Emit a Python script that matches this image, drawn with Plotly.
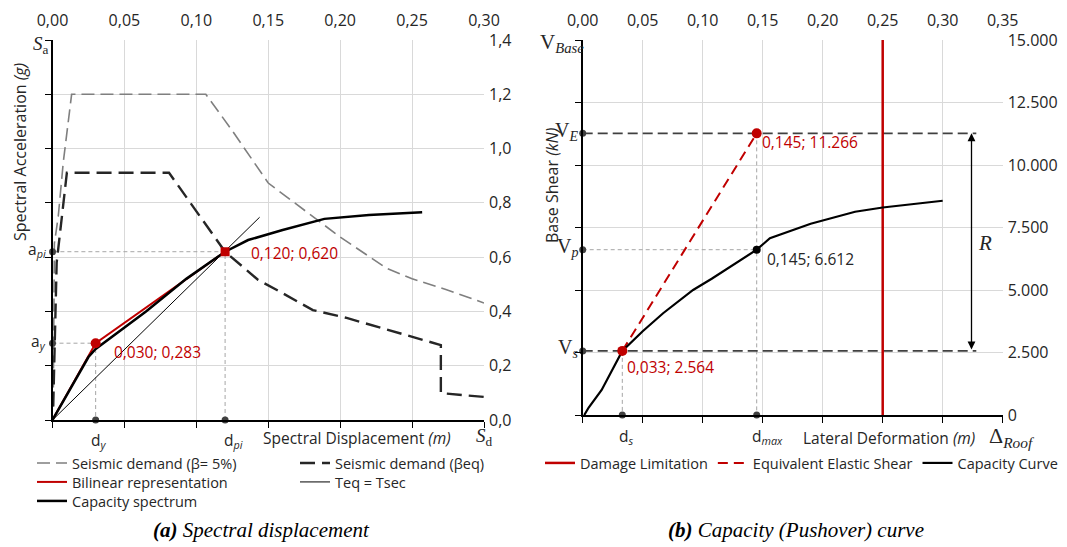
import plotly.graph_objects as go

W, H = 1067, 547

# ---------------- Panel (a) data: spectral displacement ----------------
sd_demand5 = [0.0005, 0.0013, 0.004, 0.0075, 0.0133, 0.1066, 0.1247, 0.15, 0.20, 0.232, 0.25, 0.274, 0.30]
sa_demand5 = [0.05, 0.65, 0.75, 0.95, 1.20, 1.20, 1.068, 0.873, 0.674, 0.56, 0.52, 0.48, 0.431]

sd_demandeq = [0.0005, 0.0013, 0.0029, 0.010, 0.081, 0.120, 0.143, 0.156, 0.181, 0.2045, 0.241, 0.270, 0.270, 0.30]
sa_demandeq = [0.05, 0.21, 0.58, 0.911, 0.911, 0.62, 0.516, 0.479, 0.405, 0.376, 0.32, 0.276, 0.099, 0.085]

sd_bilinear = [0.0, 0.030, 0.120]
sa_bilinear = [0.0, 0.283, 0.620]

sd_tsec = [0.0, 0.144]
sa_tsec = [0.0, 0.747]

sd_capacity = [0.0, 0.025, 0.030, 0.065, 0.093, 0.120, 0.136, 0.160, 0.189, 0.220, 0.257]
sa_capacity = [0.0, 0.232, 0.262, 0.40, 0.52, 0.620, 0.663, 0.700, 0.741, 0.755, 0.765]

d_y, a_y = 0.030, 0.283
d_pi, a_pi = 0.120, 0.620

# ---------------- Panel (b) data: capacity (pushover) curve ----------------
dr_capacity = [0.0013, 0.005, 0.0158, 0.033, 0.050, 0.067, 0.092, 0.1075, 0.145, 0.156, 0.190, 0.227, 0.250, 0.300]
vb_capacity = [0, 300, 1000, 2564, 3350, 4070, 5000, 5450, 6612, 7070, 7650, 8130, 8300, 8570]

dr_elastic = [0.033, 0.145]
vb_elastic = [2564, 11266]

dr_damage = [0.25, 0.25]
vb_damage = [0, 15000]

d_s, V_s = 0.033, 2564
d_max, V_p, V_E = 0.145, 6612, 11266
r_arrow_x = 0.324
h_line_end = 0.328

# ---------------- styles ----------------
SANS = "Open Sans"
SERIF = "Liberation Serif"
RED = "#c00000"
GRID = "#d9d9d9"
GUIDE = "#a6a6a6"
DOT = "#404040"
TXT = "#262626"


def fmt_dec(v, n=3):
    return f"{v:.{n}f}".replace(".", ",")


def fmt_th(v):
    return f"{v:,}".replace(",", ".")


fig = go.Figure()

# ---- panel (a) traces ----
fig.add_trace(go.Scatter(x=[d_pi, d_pi, 0, None, 0, d_y, d_y], y=[0, a_pi, a_pi, None, a_y, a_y, 0],
                         mode="lines", line=dict(color=GUIDE, width=1, dash="4px,3px"),
                         showlegend=False, hoverinfo="skip", xaxis="x", yaxis="y"))
fig.add_trace(go.Scatter(x=sd_demand5, y=sa_demand5, mode="lines", name="Seismic demand (β= 5%)",
                         line=dict(color="#7f7f7f", width=1.6, dash="13px,6px"),
                         legend="legend", legendrank=1, xaxis="x", yaxis="y"))
fig.add_trace(go.Scatter(x=sd_demandeq, y=sa_demandeq, mode="lines", name="Seismic demand (βeq)",
                         line=dict(color="#262626", width=2.4, dash="15px,7px"),
                         legend="legend", legendrank=2, xaxis="x", yaxis="y"))
fig.add_trace(go.Scatter(x=sd_tsec, y=sa_tsec, mode="lines", name="Teq = Tsec",
                         line=dict(color="#000000", width=1),
                         legend="legend3", legendrank=2, xaxis="x", yaxis="y"))
fig.add_trace(go.Scatter(x=sd_bilinear, y=sa_bilinear, mode="lines", name="Bilinear representation",
                         line=dict(color=RED, width=2),
                         legend="legend3", legendrank=1, xaxis="x", yaxis="y"))
fig.add_trace(go.Scatter(x=sd_capacity, y=sa_capacity, mode="lines", name="Capacity spectrum",
                         line=dict(color="#000000", width=2.5),
                         legend="legend4", legendrank=1, xaxis="x", yaxis="y"))
fig.add_trace(go.Scatter(x=[d_y], y=[a_y], mode="markers", marker=dict(color=RED, size=10, symbol="circle"),
                         showlegend=False, hoverinfo="skip", xaxis="x", yaxis="y"))
fig.add_trace(go.Scatter(x=[d_pi], y=[a_pi], mode="markers", marker=dict(color=RED, size=9, symbol="square"),
                         showlegend=False, hoverinfo="skip", xaxis="x", yaxis="y"))
fig.add_trace(go.Scatter(x=[0, 0, d_y, d_pi], y=[a_pi, a_y, 0, 0], mode="markers",
                         marker=dict(color=DOT, size=7), cliponaxis=False,
                         showlegend=False, hoverinfo="skip", xaxis="x", yaxis="y"))
fig.add_trace(go.Scatter(x=[0], y=[0], mode="lines", opacity=0, showlegend=False, hoverinfo="skip",
                         xaxis="x3", yaxis="y3"))

# ---- panel (b) traces ----
fig.add_trace(go.Scatter(x=[0, d_max, None, d_max, d_max, None, d_s, d_s], y=[V_p, V_p, None, V_E, 0, None, V_s, 0],
                         mode="lines", line=dict(color=GUIDE, width=1, dash="4px,3px"),
                         showlegend=False, hoverinfo="skip", xaxis="x2", yaxis="y2"))
fig.add_trace(go.Scatter(x=[0, h_line_end, None, 0, h_line_end], y=[V_E, V_E, None, V_s, V_s],
                         mode="lines", line=dict(color="#404040", width=1.8, dash="10px,5px"),
                         showlegend=False, hoverinfo="skip", xaxis="x2", yaxis="y2"))
fig.add_trace(go.Scatter(x=dr_damage, y=vb_damage, mode="lines", name="Damage Limitation",
                         line=dict(color=RED, width=2.5), legend="legend2", xaxis="x2", yaxis="y2"))
fig.add_trace(go.Scatter(x=dr_elastic, y=vb_elastic, mode="lines", name="Equivalent Elastic Shear",
                         line=dict(color=RED, width=2, dash="10px,6px"), legend="legend2", xaxis="x2", yaxis="y2"))
fig.add_trace(go.Scatter(x=dr_capacity, y=vb_capacity, mode="lines", name="Capacity Curve",
                         line=dict(color="#000000", width=2.2), legend="legend2", xaxis="x2", yaxis="y2"))
fig.add_trace(go.Scatter(x=[d_s, d_max], y=[V_s, V_E], mode="markers", marker=dict(color=RED, size=10),
                         showlegend=False, hoverinfo="skip", xaxis="x2", yaxis="y2"))
fig.add_trace(go.Scatter(x=[d_max], y=[V_p], mode="markers", marker=dict(color="#000000", size=8),
                         showlegend=False, hoverinfo="skip", xaxis="x2", yaxis="y2"))
fig.add_trace(go.Scatter(x=[0, 0, 0, d_s, d_max], y=[V_E, V_p, V_s, 0, 0], mode="markers",
                         marker=dict(color=DOT, size=7), cliponaxis=False,
                         showlegend=False, hoverinfo="skip", xaxis="x2", yaxis="y2"))
fig.add_trace(go.Scatter(x=[0], y=[0], mode="lines", opacity=0, showlegend=False, hoverinfo="skip",
                         xaxis="x4", yaxis="y4"))

# ---------------- axes ----------------
dom_xa = [52.5 / W, 484 / W]
dom_ya = [1 - 420 / H, 1 - 40 / H]
dom_xb = [582.7 / W, 1002.7 / W]
dom_yb = [1 - 415 / H, 1 - 40 / H]

base_line = dict(showline=True, linecolor="#000000", linewidth=1.5, ticks="outside", ticklen=6,
                 tickcolor="#000000", showticklabels=False, showgrid=True, gridcolor=GRID, gridwidth=1,
                 zeroline=False, automargin=False)
label_ax = dict(showgrid=False, zeroline=False, showline=False, ticks="", automargin=False,
                tickfont=dict(family=SANS, size=16, color=TXT))

fig.update_layout(
    template="none",
    xaxis=dict(domain=dom_xa, range=[0, 0.30], dtick=0.05, tick0=0, anchor="y", **base_line),
    yaxis=dict(domain=dom_ya, range=[0, 1.4], dtick=0.2, tick0=0, anchor="x", **base_line),
    xaxis3=dict(overlaying="x", anchor="y3", side="top", range=[0, 0.30], dtick=0.05, tick0=0,
                tickformat=".2f", ticklabelstandoff=10, **label_ax),
    yaxis3=dict(overlaying="y", anchor="x3", side="right", range=[0, 1.4], dtick=0.2, tick0=0,
                tickformat=".1f", ticklabelstandoff=4, **label_ax),
    xaxis2=dict(domain=dom_xb, range=[0, 0.35], dtick=0.05, tick0=0, anchor="y2", **base_line),
    yaxis2=dict(domain=dom_yb, range=[0, 15000], dtick=2500, tick0=0, anchor="x2", **base_line),
    xaxis4=dict(overlaying="x2", anchor="y4", side="top", range=[0, 0.35], dtick=0.05, tick0=0,
                tickformat=".2f", ticklabelstandoff=10, **label_ax),
    yaxis4=dict(overlaying="y2", anchor="x4", side="right", range=[0, 15000], dtick=2500, tick0=0,
                tickformat=",", ticklabelstandoff=4, **label_ax),
)

legend_font = dict(family=SANS, size=14.5, color=TXT)
row_leg = dict(xanchor="left", yanchor="top", orientation="h", font=legend_font, itemwidth=30,
               entrywidth=218, entrywidthmode="pixels", bgcolor="rgba(0,0,0,0)", borderwidth=0)
fig.update_layout(
    width=W, height=H, margin=dict(l=0, r=0, t=0, b=0, autoexpand=False),
    paper_bgcolor="white", plot_bgcolor="white", separators=",.",
    legend=dict(x=32 / W, y=1 - 447 / H, **row_leg),
    legend3=dict(x=32 / W, y=1 - 466 / H, **row_leg),
    legend4=dict(x=32 / W, y=1 - 485 / H, **row_leg),
    legend2=dict(x=540 / W, y=1 - 447 / H, xanchor="left", yanchor="top", orientation="h",
                 font=legend_font, itemwidth=30, bgcolor="rgba(0,0,0,0)", borderwidth=0),
)

# ---------------- annotations ----------------
anns = []


def pix(text, x, y, size=15, family=SANS, color=TXT, xanchor="center", angle=0):
    anns.append(dict(text=text, x=x / W, y=1 - y / H, xref="paper", yref="paper", showarrow=False,
                     xanchor=xanchor, yanchor="middle", textangle=angle,
                     font=dict(family=family, size=size, color=color)))


def dat(text, x, y, xr, yr, xs=0, ys=0, size=15.5, family=SANS, color=TXT, xanchor="left"):
    anns.append(dict(text=text, x=x, y=y, xref=xr, yref=yr, showarrow=False, xshift=xs, yshift=ys,
                     xanchor=xanchor, yanchor="middle", font=dict(family=family, size=size, color=color)))


# panel (a)
pix("Spectral Acceleration <i>(g)</i>", 20, 152, size=16, angle=-90)
pix("<i>S</i><sub>a</sub>", 41, 45, size=19, family=SERIF)
dat("a<sub><i>pi</i></sub>", 0, a_pi, "x", "y", xs=-5, ys=2, xanchor="right")
dat("a<sub><i>y</i></sub>", 0, a_y, "x", "y", xs=-5, ys=2, xanchor="right")
dat("d<sub><i>y</i></sub>", d_y, 0, "x", "y", xs=3, ys=-20, xanchor="center")
dat("d<sub><i>pi</i></sub>", d_pi, 0, "x", "y", xs=8, ys=-20, xanchor="center")
pix("Spectral Displacement <i>(m)</i>", 357, 438, size=15.5)
pix("<i>S</i><sub>d</sub>", 484, 437, size=19, family=SERIF)
dat(f"{fmt_dec(d_pi)}; {fmt_dec(a_pi)}", d_pi, a_pi, "x", "y", xs=24, ys=-1, color=RED)
dat(f"{fmt_dec(d_y)}; {fmt_dec(a_y)}", d_y, a_y, "x", "y", xs=16, ys=-9, color=RED)

# panel (b)
pix("Base Shear <i>(kN)</i>", 552, 186, size=16, angle=-90)
pix("V<sub><i>Base</i></sub>", 562, 43, size=21, family=SERIF)
dat("V<sub><i>E</i></sub>", 0, V_E, "x2", "y2", xs=-3, ys=2, size=20, family=SERIF, xanchor="right")
dat("V<sub><i>p</i></sub>", 0, V_p, "x2", "y2", xs=-3, ys=2, size=20, family=SERIF, xanchor="right")
dat("V<sub><i>s</i></sub>", 0, V_s, "x2", "y2", xs=-3, ys=2, size=20, family=SERIF, xanchor="right")
dat("d<sub><i>s</i></sub>", d_s, 0, "x2", "y2", xs=4, ys=-21, xanchor="center")
dat("d<sub><i>max</i></sub>", d_max, 0, "x2", "y2", xs=11, ys=-21, xanchor="center")
pix("Lateral Deformation <i>(m)</i>", 889, 438, size=15.5)
pix("Δ<sub><i>Roof</i></sub>", 1012, 437, size=22, family=SERIF)
dat(f"{fmt_dec(d_max)}; {fmt_th(V_E)}", d_max, V_E, "x2", "y2", xs=3, ys=-9, color=RED)
dat(f"{fmt_dec(d_max)}; {fmt_th(V_p)}", d_max, V_p, "x2", "y2", xs=8, ys=-9, color=TXT)
dat(f"{fmt_dec(d_s)}; {fmt_th(V_s)}", d_s, V_s, "x2", "y2", xs=3, ys=-16, color=RED)
pix("<i>R</i>", 985, 243, size=21, family=SERIF)

# double-headed arrow R
anns.append(dict(x=r_arrow_x, y=V_E, ax=r_arrow_x, ay=V_s, xref="x2", yref="y2", axref="x2", ayref="y2",
                 text="", showarrow=True, arrowhead=2, startarrowhead=2, arrowside="end+start",
                 arrowsize=1.2, startarrowsize=1.2, arrowwidth=1.3, arrowcolor="#000000",
                 standoff=0, startstandoff=0))

# captions
pix("<b><i>(a)</i></b><i> Spectral displacement</i>", 261, 530, size=21, family=SERIF, color="#000000")
pix("<b><i>(b)</i></b><i> Capacity (Pushover) curve</i>", 796, 530, size=21, family=SERIF, color="#000000")

fig.update_layout(annotations=anns)

fig.write_html("out.html")
